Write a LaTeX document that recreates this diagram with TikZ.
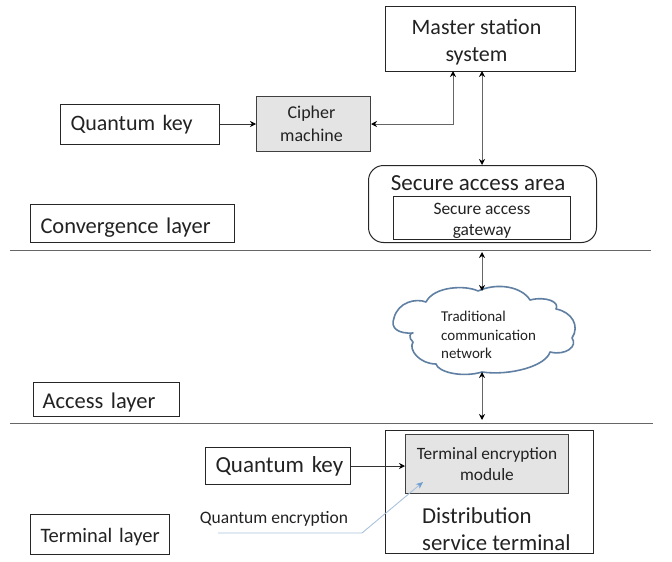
\documentclass[tikz,border=0pt]{standalone}
\usepackage{fontspec}
\setmainfont{Carlito}
\usetikzlibrary{arrows.meta}
\definecolor{txt}{HTML}{222222}
\definecolor{lin}{HTML}{666666}
\definecolor{fillg}{HTML}{E4E4E4}
\definecolor{cloudc}{HTML}{5F7FA3}
\definecolor{bluel}{HTML}{A9C1DC}
\definecolor{bluet}{HTML}{6F9FCF}
\tikzset{
  boxn/.style={draw=black!85,line width=1pt,inner sep=0pt,text=txt,align=center,anchor=north west},
  graybox/.style={boxn,fill=fillg,draw=black!75},
  leftbox/.style={boxn,align=left,inner xsep=10pt},
  free/.style={text=txt,align=center,inner sep=0pt},
  conn/.style={draw=lin,line width=0.9pt,{Stealth[length=6pt,width=6pt,black]}-{Stealth[length=6pt,width=6pt,black]}},
  thinarrow/.style={draw=black!80,line width=0.7pt,-{Stealth[length=6pt,width=6pt,black]}},
  layerline/.style={draw=black!60,line width=0.8pt},
}
\begin{document}
\begin{tikzpicture}[x=1pt,y=-1pt]
\useasboundingbox (0,0) rectangle (672,562);
% layer lines
\coordinate (l1a) at (10,250); \coordinate (l1b) at (651,250);
\coordinate (l2a) at (10,423); \coordinate (l2b) at (653,423);
\draw[layerline] (l1a) -- (l1b);
\draw[layerline] (l2a) -- (l2b);
% top boxes
\node[boxn,minimum width=190pt,minimum height=65pt,font=\fontsize{22}{26.5}\selectfont] (master) at (385,6) {\rule{0pt}{22pt}Master station\hspace*{8pt}\\system\hspace*{8pt}};
\node[graybox,minimum width=114pt,minimum height=55pt,font=\fontsize{18}{23.5}\selectfont] (cipher) at (256,96) {Cipher\hspace*{4pt}\\machine\hspace*{4pt}};
\node[leftbox,text width=139pt,minimum height=40pt,font=\fontsize{22}{24}\selectfont] (qk1) at (60,104) {\mbox{Quantum key}};
\node[draw=black!85,line width=1pt,rounded corners=15pt,minimum width=228pt,minimum height=77pt,anchor=north west,inner sep=0pt] (area) at (368,165) {};
\node[free,font=\fontsize{23}{24}\selectfont] (areat) at (478,183) {Secure access area};
\node[boxn,minimum width=177pt,minimum height=43pt,font=\fontsize{17.4}{21}\selectfont] (gw) at (393,196) {\rule{0pt}{17.5pt}Secure access\\gateway};
\node[leftbox,text width=184pt,minimum height=38pt,font=\fontsize{22.5}{24}\selectfont] (conv) at (30,204) {\mbox{\rule{0pt}{24pt}Convergence layer}};
% cloud
\fill[white] (392,289) rectangle (576,374);
\draw[draw=cloudc,line width=1.6pt,fill=white,line join=round]
  (394,318) .. controls (398,302) and (416,298) .. (426,302)
  .. controls (434,286) and (466,285) .. (478,291)
  .. controls (498,282) and (522,287) .. (530,300)
  .. controls (546,296) and (560,302) .. (556,309)
  .. controls (572,312) and (580,326) .. (572,338)
  .. controls (578,346) and (566,356) .. (550,352)
  .. controls (546,366) and (510,376) .. (482,372)
  .. controls (462,378) and (438,372) .. (436,364)
  .. controls (420,364) and (408,350) .. (413,342)
  .. controls (408,338) and (410,332) .. (413,333)
  .. controls (398,334) and (390,328) .. (394,318) -- cycle;
\node[free,font=\fontsize{15}{18.5}\selectfont,align=left,anchor=west] (net) at (441,335) {Traditional\\communication\\network};
\coordinate (cloudt) at (482,291);
\coordinate (cloudb) at (482,372);
% access
\node[leftbox,inner xsep=9pt,text width=128pt,minimum height=34pt,font=\fontsize{22.5}{24}\selectfont] (acc) at (33,382) {\mbox{\rule{0pt}{22pt}Access layer}};
% terminal
\node[boxn,minimum width=208pt,minimum height=123pt] (dist) at (385,430) {};
\node[graybox,minimum width=163pt,minimum height=59pt,font=\fontsize{17.3}{21}\selectfont] (mod) at (405,434) {Terminal encryption\\module};
\node[free,font=\fontsize{22.8}{27}\selectfont,align=left,anchor=west] (distt) at (422,529) {Distribution\\service terminal};
\node[leftbox,text width=125pt,minimum height=37pt,font=\fontsize{23}{24}\selectfont] (qk2) at (205,447) {\mbox{Quantum key}};
\node[free,font=\fontsize{17.5}{18}\selectfont] (qe) at (274,519) {Quantum encryption};
\node[leftbox,text width=119pt,minimum height=40pt,font=\fontsize{20.5}{24}\selectfont] (term) at (30,514) {\mbox{\rule{0pt}{19pt}Terminal layer}};
% connectors
\draw[thinarrow] (qk1.east |- cipher.west) -- (cipher.west);
\coordinate (mk) at (453,71);
\coordinate (mg) at (482,71);
\coordinate (areatop) at (482,165);
\coordinate (arealow) at (482,252);
\coordinate (net1) at (482,420);
\draw[conn] (cipher.east) -| (mk);
\draw[conn] (mg) -- (areatop);
\draw[conn] (arealow) -- (cloudt);
\draw[conn] (cloudb) -- (net1);
\draw[thinarrow] (qk2.east) -- (mod.west |- qk2.east);
\coordinate (qs) at (218,533);
\coordinate (qm) at (362,533);
\coordinate (qt) at (423,482);
\draw[draw=bluel,line width=0.9pt,-{Stealth[length=7pt,width=6pt,bluet]}] (qs) -- (qm) -- (qt);
\end{tikzpicture}
\end{document}
